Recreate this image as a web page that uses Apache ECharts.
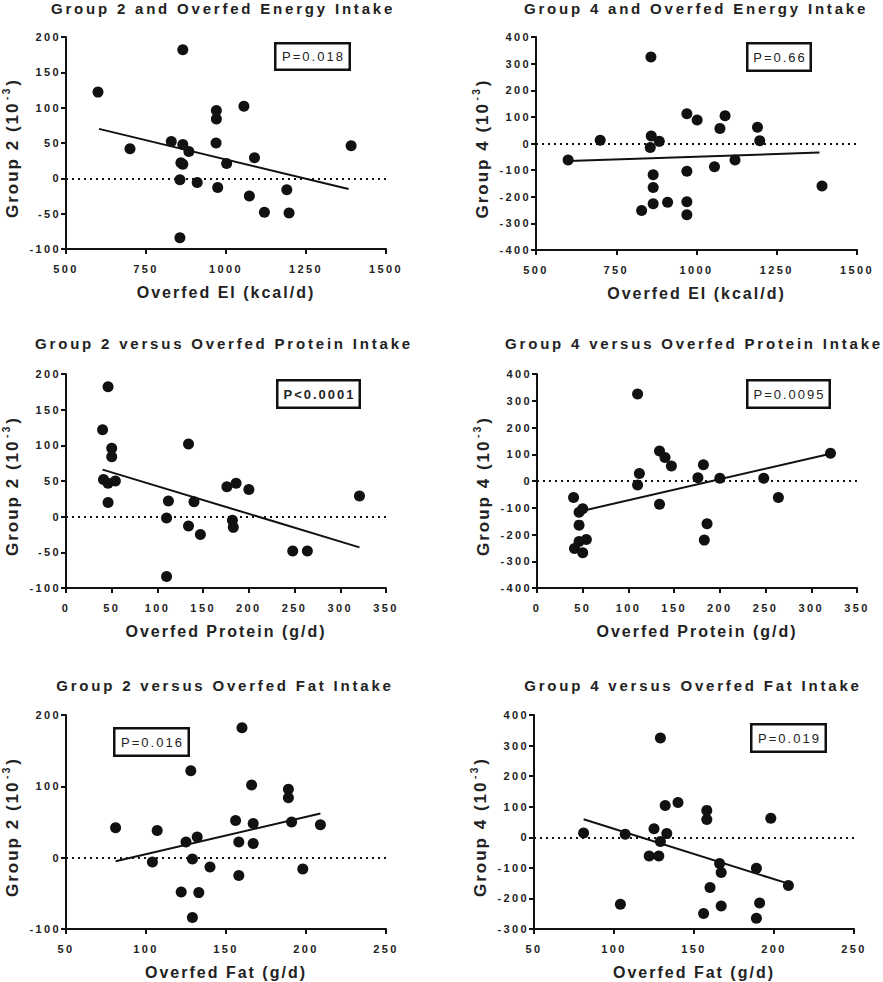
<!DOCTYPE html>
<html>
<head>
<meta charset="utf-8">
<script src="https://cdn.jsdelivr.net/npm/echarts@6/dist/echarts.min.js"></script>
<style>
html,body{margin:0;padding:0;background:#fff;}
#main{width:883px;height:982px;}
#main svg text{letter-spacing:2.4px;}
#main svg text[style*="15px"]{letter-spacing:2.8px;}
#main svg text[style*="16px"]{letter-spacing:2px;}
#main svg text[style*="17px"]{letter-spacing:2px;}
#main svg text[style*="13px"]{letter-spacing:2px;}
</style>
</head>
<body>
<div id="main"></div>
<script>
// ---------------- data ----------------
const titles = [
  'Group 2 and Overfed Energy Intake',
  'Group 4 and Overfed Energy Intake',
  'Group 2 versus Overfed Protein Intake',
  'Group 4 versus Overfed Protein Intake',
  'Group 2 versus Overfed Fat Intake',
  'Group 4 versus Overfed Fat Intake'
];
const xNames = ['Overfed EI (kcal/d)', 'Overfed EI (kcal/d)', 'Overfed Protein (g/d)', 'Overfed Protein (g/d)', 'Overfed Fat (g/d)', 'Overfed Fat (g/d)'];
const yGroups = ['Group 2', 'Group 4', 'Group 2', 'Group 4', 'Group 2', 'Group 4'];
const pTexts = ['P=0.018', 'P=0.66', 'P<0.0001', 'P=0.0095', 'P=0.016', 'P=0.019'];

// Panel 1: Group 2 vs Overfed EI
const p1X = [600, 865, 700, 829, 865, 884, 859, 865, 856, 910, 856, 970, 970, 969, 974, 1056, 1002, 1089, 1073, 1120, 1190, 1197, 1391];
const p1Y = [122, 182, 42, 52, 48, 38, 22, 20, -2, -6, -84, 96, 84, 50, -13, 102, 21, 29, -25, -48, -16, -49, 46];
const p1FitX = [603, 1383];
const p1FitY = [70, -15];

// Panel 2: Group 4 vs Overfed EI
const p2X = [600, 858, 700, 859, 856, 884, 865, 865, 865, 829, 910, 970, 970, 970, 970, 1002, 1056, 1073, 1089, 1120, 1190, 1197, 1391];
const p2Y = [-62, 325, 12, 28, -15, 8, -117, -165, -226, -252, -221, 112, -104, -219, -268, 88, -87, 56, 104, -62, 61, 10, -160];
const p2FitX = [601, 1383];
const p2FitY = [-66, -34];

// Panel 3: Group 2 vs Overfed Protein
const p3X = [40, 46, 50, 50, 41, 46, 54, 46, 110, 110, 112, 134, 134, 140, 147, 176, 186, 182, 183, 200, 248, 264, 321];
const p3Y = [122, 182, 96, 84, 52, 47, 50, 20, -2, -84, 22, 102, -13, 21, -25, 42, 47, -5, -15, 38, -48, -48, 29];
const p3FitX = [40, 321];
const p3FitY = [66, -43];

// Panel 4: Group 4 vs Overfed Protein
const p4X = [40, 110, 41, 46, 46, 46, 50, 50, 54, 110, 112, 134, 134, 140, 147, 176, 182, 183, 186, 200, 248, 264, 321];
const p4Y = [-62, 325, -252, -117, -165, -226, -104, -268, -219, -15, 28, 112, -87, 88, 56, 12, 61, -221, -160, 10, 10, -62, 104];
const p4FitX = [44, 321];
const p4FitY = [-116, 102];

// Panel 5: Group 2 vs Overfed Fat
const p5X = [81, 107, 104, 125, 128, 132, 129, 122, 133, 129, 140, 156, 158, 158, 160, 166, 167, 167, 189, 189, 191, 198, 209];
const p5Y = [42, 38, -6, 22, 122, 29, -2, -48, -49, -84, -13, 52, 22, -25, 182, 102, 48, 20, 96, 84, 50, -16, 46];
const p5FitX = [81, 209];
const p5FitY = [-5, 62];

// Panel 6: Group 4 vs Overfed Fat
const p6X = [81, 107, 104, 125, 129, 132, 133, 129, 122, 128, 140, 158, 158, 156, 160, 166, 167, 167, 189, 189, 191, 198, 209];
const p6Y = [14, 10, -219, 28, 325, 104, 12, -14, -61, -61, 114, 88, 58, -249, -164, -86, -115, -225, -101, -265, -215, 62, -158];
const p6FitX = [81, 208];
const p6FitY = [59, -150];

// axis ranges [min, max, interval]
const xRanges = [[500, 1500, 250], [500, 1500, 250], [0, 350, 50], [0, 350, 50], [50, 250, 50], [50, 250, 50]];
const yRanges = [[-100, 200, 50], [-400, 400, 100], [-100, 200, 50], [-400, 400, 100], [-100, 200, 100], [-300, 400, 100]];

const allX = [p1X, p2X, p3X, p4X, p5X, p6X];
const allY = [p1Y, p2Y, p3Y, p4Y, p5Y, p6Y];
const allFitX = [p1FitX, p2FitX, p3FitX, p4FitX, p5FitX, p6FitX];
const allFitY = [p1FitY, p2FitY, p3FitY, p4FitY, p5FitY, p6FitY];

// ---------------- layout ----------------
const grids = [
  {left: 65, top: 37, width: 321, height: 212},
  {left: 536, top: 37, width: 321, height: 213},
  {left: 66, top: 374, width: 320, height: 214},
  {left: 537, top: 374, width: 320, height: 214},
  {left: 66, top: 715, width: 320, height: 214},
  {left: 534, top: 715, width: 320, height: 214}
];
const titlePos = [[223, 8], [696, 8], [224, 343], [694, 343], [225, 685], [693, 685]];
const boxes = [
  [274, 42, 77, 29], [746, 42, 66, 30], [276, 379, 85, 30],
  [746, 379, 85, 30], [113, 727, 77, 30], [750, 723, 77, 30]
];
const pBold = [false, false, true, false, false, false];

const FONT = 'Liberation Sans';
const INK = '#111';
const TXT = '#222';

const xAxes = [], yAxes = [], series = [], graphics = [];
for (let i = 0; i < 6; i++) {
  xAxes.push({
    type: 'value', gridIndex: i,
    min: xRanges[i][0], max: xRanges[i][1], interval: xRanges[i][2],
    axisLine: {show: true, onZero: false, lineStyle: {color: INK, width: 2}},
    axisTick: {show: true, length: 5, lineStyle: {color: INK, width: 2}},
    axisLabel: {margin: 14, color: TXT, fontSize: 11, fontWeight: 'bold', fontFamily: FONT, formatter: v => String(v)},
    splitLine: {show: false},
    name: xNames[i], nameLocation: 'middle', nameGap: 35,
    nameTextStyle: {fontSize: 16, fontWeight: 'bold', color: TXT, fontFamily: FONT}
  });
  yAxes.push({
    type: 'value', gridIndex: i,
    min: yRanges[i][0], max: yRanges[i][1], interval: yRanges[i][2],
    axisLine: {show: true, onZero: false, lineStyle: {color: INK, width: 2}},
    axisTick: {show: true, length: 5, lineStyle: {color: INK, width: 2}},
    axisLabel: {margin: 5, color: TXT, fontSize: 11, fontWeight: 'bold', fontFamily: FONT, formatter: v => String(v)},
    splitLine: {show: false},
    name: '{a|' + yGroups[i] + ' (10}{s|-3}{b|)}',
    nameLocation: 'middle', nameGap: 42,
    nameTextStyle: {
      fontSize: 17, fontWeight: 'bold', color: TXT, fontFamily: FONT,
      rich: {
        a: {fontSize: 17, fontWeight: 'bold', color: TXT, fontFamily: FONT, lineHeight: 23, padding: [0, 15, 0, 0]},
        s: {fontSize: 10, fontWeight: 'bold', color: TXT, fontFamily: FONT, verticalAlign: 'top', padding: [0, 4, 0, 0]},
        b: {fontSize: 17, fontWeight: 'bold', color: TXT, fontFamily: FONT, lineHeight: 23}
      }
    }
  });
  series.push({
    type: 'scatter', xAxisIndex: i, yAxisIndex: i,
    data: allX[i].map((x, k) => [x, allY[i][k]]),
    symbol: 'circle', symbolSize: 11,
    itemStyle: {color: INK, opacity: 1},
    z: 3,
    markLine: {
      silent: true, symbol: 'none', label: {show: false},
      lineStyle: {color: INK, width: 2, type: [2, 4], dashOffset: -6, opacity: 1},
      data: [{yAxis: 0}]
    }
  });
  series.push({
    type: 'line', xAxisIndex: i, yAxisIndex: i,
    data: allFitX[i].map((x, k) => [x, allFitY[i][k]]),
    symbol: 'none', lineStyle: {color: INK, width: 2}, z: 2
  });
  graphics.push({
    type: 'text', x: titlePos[i][0], y: titlePos[i][1],
    style: {text: titles[i], fill: TXT, font: 'bold 15px ' + FONT, align: 'center', verticalAlign: 'middle', textAlign: 'center', textVerticalAlign: 'middle'}
  });
  const b = boxes[i];
  graphics.push({
    type: 'rect',
    shape: {x: b[0] + 1.25, y: b[1] + 1.25, width: b[2] - 2.5, height: b[3] - 2.5},
    style: {fill: '#fff', stroke: '#111', lineWidth: 2.5}, z: 10
  });
  graphics.push({
    type: 'text', x: b[0] + b[2] / 2 + 1, y: b[1] + b[3] / 2,
    style: {text: pTexts[i], fill: TXT, font: (pBold[i] ? 'bold ' : '') + '13px ' + FONT, align: 'center', verticalAlign: 'middle', textAlign: 'center', textVerticalAlign: 'middle'},
    z: 11
  });
}

const chart = echarts.init(document.getElementById('main'), null, {renderer: 'svg', width: 883, height: 982});
chart.setOption({
  backgroundColor: '#fff',
  animation: false,
  textStyle: {fontFamily: FONT},
  grid: grids,
  xAxis: xAxes,
  yAxis: yAxes,
  series: series,
  graphic: graphics
});
</script>
</body>
</html>
